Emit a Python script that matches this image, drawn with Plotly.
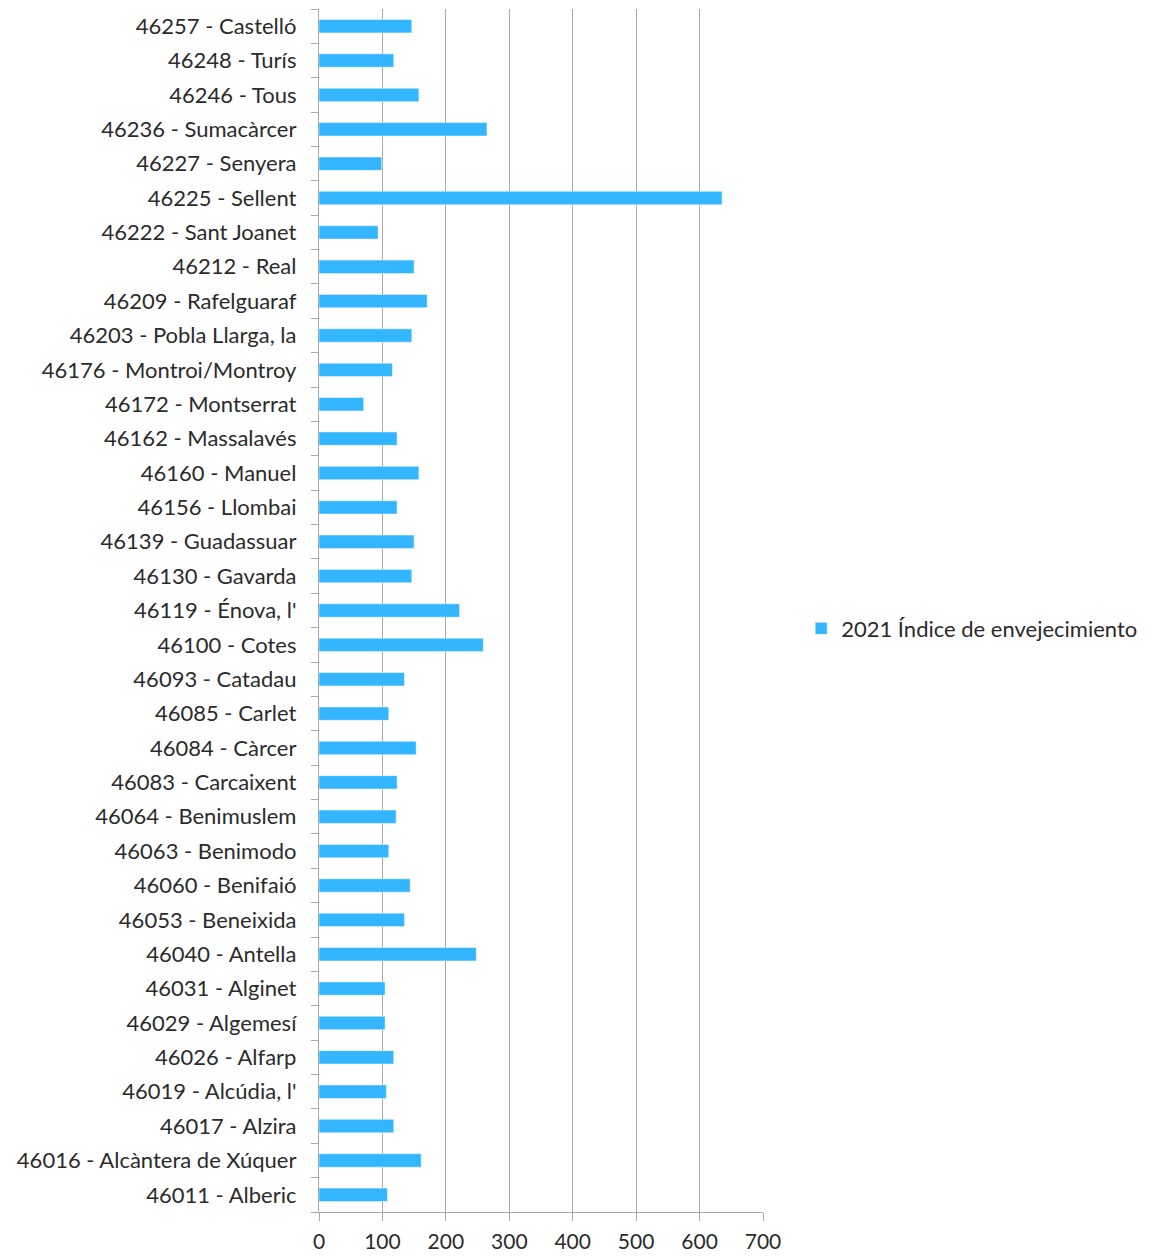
import plotly.graph_objects as go

# Municipality codes and names (ascending code order, drawn bottom to top)
codes = [
    "46011", "46016", "46017", "46019", "46026", "46029", "46031", "46040",
    "46053", "46060", "46063", "46064", "46083", "46084", "46085", "46093",
    "46100", "46119", "46130", "46139", "46156", "46160", "46162", "46172",
    "46176", "46203", "46209", "46212", "46222", "46225", "46227", "46236",
    "46246", "46248", "46257",
]
names = [
    "Alberic", "Alcàntera de Xúquer", "Alzira", "Alcúdia, l'", "Alfarp",
    "Algemesí", "Alginet", "Antella", "Beneixida", "Benifaió", "Benimodo",
    "Benimuslem", "Carcaixent", "Càrcer", "Carlet", "Catadau", "Cotes",
    "Énova, l'", "Gavarda", "Guadassuar", "Llombai", "Manuel", "Massalavés",
    "Montserrat", "Montroi/Montroy", "Pobla Llarga, la", "Rafelguaraf", "Real",
    "Sant Joanet", "Sellent", "Senyera", "Sumacàrcer", "Tous", "Turís",
    "Castelló",
]
# 2021 ageing index
aging_index_2021 = [
    107.9, 161.1, 117.9, 106.3, 117.9, 104.2, 104.2, 248.0,
    134.8, 143.7, 110.0, 121.6, 123.2, 153.2, 110.0, 134.8,
    259.0, 221.6, 146.3, 150.0, 123.2, 157.4, 123.2, 70.5,
    115.8, 146.3, 170.6, 150.0, 93.2, 635.5, 98.9, 264.8,
    157.4, 117.9, 146.3,
]
x_ticks = [0, 100, 200, 300, 400, 500, 600, 700]
series_name = "2021 Índice de envejecimiento"

labels = [f"{c} - {n}" for c, n in zip(codes, names)]

FONT = "Lato"
TEXT = "#2b2b2b"
GRID = "#a9a9a9"

fig = go.Figure(
    go.Bar(
        x=aging_index_2021,
        y=labels,
        orientation="h",
        name=series_name,
        marker=dict(color="#33b6ff", line=dict(color="rgba(255,255,255,0.6)", width=0.8)),
        showlegend=True,
    )
)

fig.update_layout(
    width=1157,
    height=1258,
    margin=dict(l=319, r=394, t=9, b=46, autoexpand=False),
    paper_bgcolor="white",
    plot_bgcolor="white",
    bargap=0.61,
    font=dict(family=FONT, size=22, color=TEXT),
    legend=dict(
        x=1.086,
        y=0.485,
        xanchor="left",
        yanchor="middle",
        font=dict(family=FONT, size=22, color=TEXT),
        bgcolor="rgba(0,0,0,0)",
    ),
    xaxis=dict(
        range=[0, 700],
        tickvals=x_ticks,
        ticktext=[str(v) for v in x_ticks],
        tickfont=dict(family=FONT, size=21, color=TEXT),
        showgrid=True,
        gridcolor=GRID,
        gridwidth=1.3,
        showline=True,
        linecolor=GRID,
        linewidth=1.3,
        ticks="outside",
        ticklen=8,
        tickcolor=GRID,
        tickwidth=1.3,
        ticklabelstandoff=3,
        zeroline=False,
        automargin=False,
        fixedrange=True,
    ),
    yaxis=dict(
        type="category",
        categoryorder="array",
        categoryarray=labels,
        showgrid=False,
        showline=True,
        linecolor=GRID,
        linewidth=1.3,
        ticks="outside",
        tickson="boundaries",
        ticklen=7,
        tickcolor=GRID,
        tickwidth=1.3,
        ticklabelstandoff=17,
        range=[-0.5, len(labels) - 0.5],
        automargin=False,
        fixedrange=True,
    ),
)

fig.write_html("out.html")
